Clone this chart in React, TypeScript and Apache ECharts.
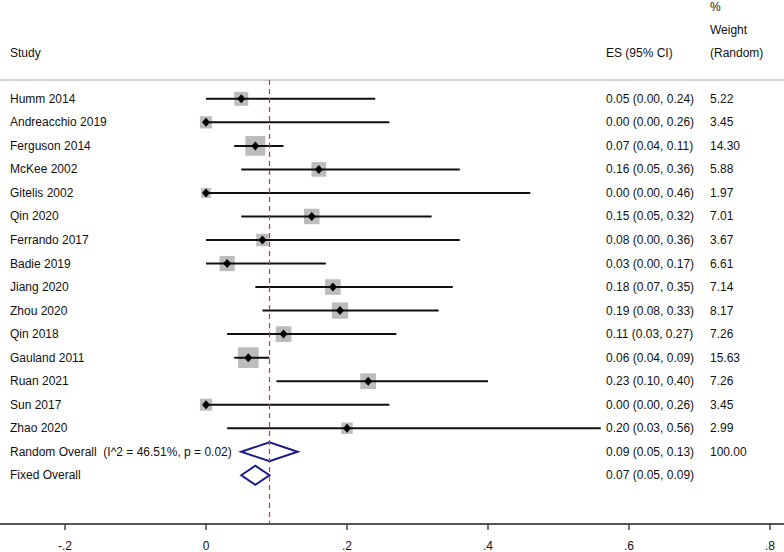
import React, { useEffect, useRef } from "react";
import * as echarts from "echarts";

const studies = [
  "Humm 2014", "Andreacchio 2019", "Ferguson 2014", "McKee 2002", "Gitelis 2002",
  "Qin 2020", "Ferrando 2017", "Badie 2019", "Jiang 2020", "Zhou 2020",
  "Qin 2018", "Gauland 2011", "Ruan 2021", "Sun 2017", "Zhao 2020",
];
const es = [0.05, 0.0, 0.07, 0.16, 0.0, 0.15, 0.08, 0.03, 0.18, 0.19, 0.11, 0.06, 0.23, 0.0, 0.2];
const lo = [0.0, 0.0, 0.04, 0.05, 0.0, 0.05, 0.0, 0.0, 0.07, 0.08, 0.03, 0.04, 0.1, 0.0, 0.03];
const hi = [0.24, 0.26, 0.11, 0.36, 0.46, 0.32, 0.36, 0.17, 0.35, 0.33, 0.27, 0.09, 0.4, 0.26, 0.56];
const weights = [5.22, 3.45, 14.3, 5.88, 1.97, 7.01, 3.67, 6.61, 7.14, 8.17, 7.26, 15.63, 7.26, 3.45, 2.99];

const overallLabels = ["Random Overall  (I^2 = 46.51%, p = 0.02)", "Fixed Overall"];
const overallEs = [0.09, 0.07];
const overallLo = [0.05, 0.05];
const overallHi = [0.13, 0.09];
const overallWeights = ["100.00", ""];

const xTicks = [-0.2, 0, 0.2, 0.4, 0.6, 0.8];
const refLine = 0.09;

const FONT = '"Liberation Sans", Arial, sans-serif';
const TXT = "#111";
const COL_NAME = 10;
const COL_ES = 606;
const COL_W = 710;
const RED = "#c0392b";

const fmt2 = (v: number) => v.toFixed(2);
const esText = (e: number, l: number, h: number) => `${fmt2(e)} (${fmt2(l)}, ${fmt2(h)})`;
const tickFmt = (v: number) => {
  if (Math.abs(v) < 1e-9) return "0";
  const s = Math.abs(v).toFixed(1).replace(/^0/, "");
  return v < 0 ? "-" + s : s;
};

function text(x: number, y: number, t: string) {
  return {
    type: "text",
    x,
    y,
    style: { text: t, fill: TXT, fontSize: 12, fontFamily: FONT, align: "left", verticalAlign: "middle" },
  };
}

export default function App() {
  const ref = useRef<HTMLDivElement>(null);
  useEffect(() => {
    if (!ref.current) return;
    const chart = echarts.init(ref.current, undefined, { renderer: "svg" });

    const studyData = studies.map((s, i) => [i, es[i], lo[i], hi[i], weights[i]]);
    const n = studies.length;
    const overallData = overallLabels.map((s, i) => [n + i, overallEs[i], overallLo[i], overallHi[i]]);

    const option: any = {
      animation: false,
      backgroundColor: "#fff",
      grid: { left: 0, right: 0, top: 80, bottom: 26, containLabel: false },
      xAxis: {
        type: "value",
        min: -206 / 705,
        max: 578 / 705,
        splitLine: { show: false },
        axisLine: { onZero: false, lineStyle: { color: "#555", width: 2 } },
        axisTick: { customValues: xTicks, length: 6, lineStyle: { color: "#444", width: 1.5 } },
        axisLabel: {
          customValues: xTicks,
          formatter: tickFmt,
          color: TXT,
          fontSize: 12,
          fontFamily: FONT,
          margin: 16,
        },
      },
      yAxis: {
        type: "value",
        inverse: true,
        min: -0.8,
        max: 18.07,
        show: false,
      },
      graphic: [
        { type: "line", shape: { x1: 0, y1: 80, x2: 784, y2: 80 }, style: { stroke: "#d0d0d0", lineWidth: 2 } },
        text(COL_NAME, 53, "Study"),
        text(COL_ES, 53, "ES (95% CI)"),
        text(COL_W, 53, "(Random)"),
        text(COL_W, 30, "Weight"),
        text(COL_W, 7, "%"),
      ],
      series: [
        {
          type: "line",
          data: [],
          silent: true,
          itemStyle: { color: RED },
          markLine: {
            silent: true,
            symbol: ["none", "none"],
            label: { show: false },
            itemStyle: { color: RED },
            lineStyle: { type: [5, 4], color: RED, width: 1.2 },
            emphasis: { disabled: true },
            data: [{ xAxis: refLine, lineStyle: { color: RED, type: [5, 4], width: 1.2 } }],
          },
        },
        {
          type: "custom",
          data: studyData,
          clip: false,
          renderItem: (params: any, api: any) => {
            const idx = api.value(0);
            const e = api.value(1);
            const l = api.value(2);
            const h = api.value(3);
            const w = api.value(4);
            const pE = api.coord([e, idx]);
            const pL = api.coord([l, idx]);
            const pH = api.coord([h, idx]);
            const y = pE[1];
            const side = 14 * Math.pow(w / 5.22, 0.35);
            const x = pE[0];
            return {
              type: "group",
              children: [
                { type: "rect", shape: { x: x - side / 2, y: y - side / 2, width: side, height: side }, style: { fill: "#bcbcbc" } },
                { type: "line", shape: { x1: pL[0], y1: y, x2: pH[0], y2: y }, style: { stroke: "#111", lineWidth: 2 } },
                { type: "polygon", shape: { points: [[x - 4, y], [x, y - 4.5], [x + 4, y], [x, y + 4.5]] }, style: { fill: "#000" } },
                text(COL_NAME, y, studies[idx]),
                text(COL_ES, y, esText(e, l, h)),
                text(COL_W, y, fmt2(w)),
              ],
            };
          },
        },
        {
          type: "custom",
          data: overallData,
          clip: false,
          renderItem: (params: any, api: any) => {
            const idx = api.value(0);
            const e = api.value(1);
            const l = api.value(2);
            const h = api.value(3);
            const pE = api.coord([e, idx]);
            const pL = api.coord([l, idx]);
            const pH = api.coord([h, idx]);
            const y = pE[1];
            const k = idx - n;
            return {
              type: "group",
              children: [
                {
                  type: "polygon",
                  shape: { points: [[pL[0], y], [pE[0], y - 9.5], [pH[0], y], [pE[0], y + 9.5]] },
                  style: { fill: "none", stroke: "#1a1a8a", lineWidth: 2 },
                },
                text(COL_NAME, y, overallLabels[k]),
                text(COL_ES, y, esText(e, l, h)),
                text(COL_W, y, overallWeights[k]),
              ],
            };
          },
        },
      ],
    };
    chart.setOption(option);
    return () => chart.dispose();
  }, []);
  return <div ref={ref} style={{ position: "fixed", left: 0, top: 0, width: 784, height: 552 }} />;
}
